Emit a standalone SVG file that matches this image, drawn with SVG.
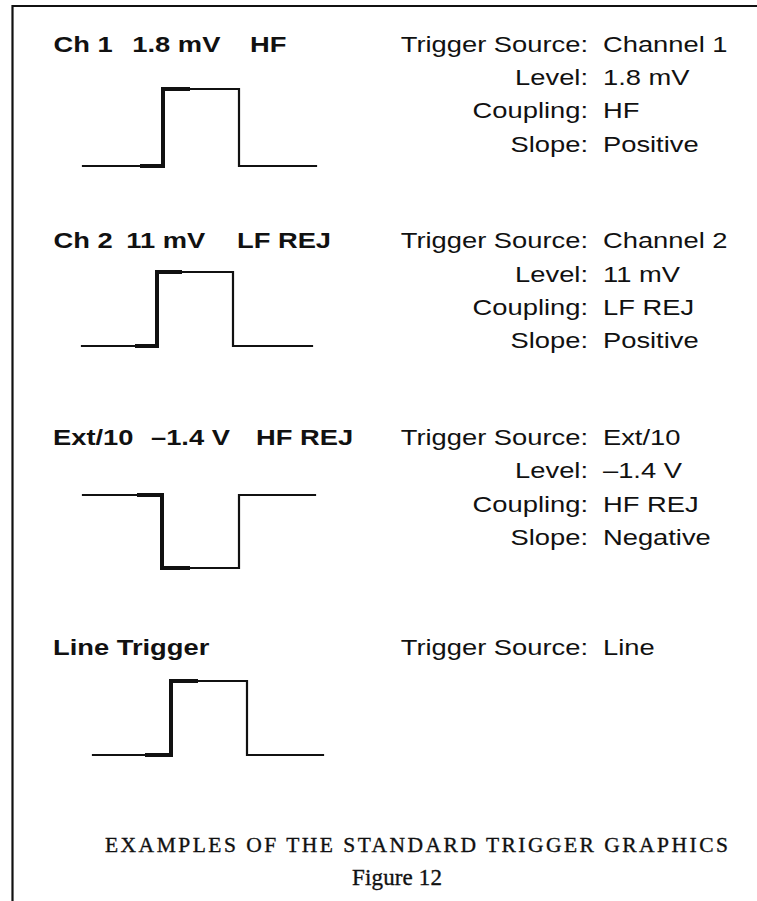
<svg xmlns="http://www.w3.org/2000/svg" width="757" height="901" viewBox="0 0 757 901">
<style>
.s{font-family:"Liberation Sans",Arial,sans-serif;font-size:22.4px;fill:#111}
.b{font-weight:bold}
.e{text-anchor:end}
.w{fill:none;stroke:#111;stroke-width:2.2;stroke-linejoin:miter;stroke-linecap:square}
.t{fill:none;stroke:#111;stroke-width:4;stroke-linejoin:miter}
.cap{font-family:"Liberation Serif","Times New Roman",serif;fill:#111;stroke:#111;stroke-width:0.35}
</style>
<rect width="757" height="901" fill="#fff"/>
<g id="frame" fill="none" stroke="#111" stroke-width="2.2">
<path d="M12.5,901 V6 H757"/>
</g>
<g id="ch1">
<path class="w" d="M83,166 H163 V89 H239 V166 H316"/>
<path class="t" d="M140,166 H163 V89 H190"/>
<g transform="scale(1.22,1)">
<text class="s b" x="43.93" y="52">Ch 1</text>
<text class="s b" x="108.44" y="52">1.8 mV</text>
<text class="s b" x="204.92" y="52">HF</text>
<text class="s e" x="481.97" y="52">Trigger Source:</text>
<text class="s" x="494.26" y="52">Channel 1</text>
<text class="s e" x="481.97" y="85">Level:</text>
<text class="s" x="494.26" y="85">1.8 mV</text>
<text class="s e" x="481.97" y="118">Coupling:</text>
<text class="s" x="494.26" y="118">HF</text>
<text class="s e" x="481.97" y="152">Slope:</text>
<text class="s" x="494.26" y="152">Positive</text>
</g>
</g>
<g id="ch2">
<path class="w" d="M82,346 H157 V272 H233 V346 H312"/>
<path class="t" d="M135,346 H157 V272 H182"/>
<g transform="scale(1.22,1)">
<text class="s b" x="43.93" y="248">Ch 2</text>
<text class="s b" x="103.52" y="248">11 mV</text>
<text class="s b" x="194.26" y="248">LF REJ</text>
<text class="s e" x="481.97" y="248">Trigger Source:</text>
<text class="s" x="494.26" y="248">Channel 2</text>
<text class="s e" x="481.97" y="282">Level:</text>
<text class="s" x="494.26" y="282">11 mV</text>
<text class="s e" x="481.97" y="315">Coupling:</text>
<text class="s" x="494.26" y="315">LF REJ</text>
<text class="s e" x="481.97" y="348">Slope:</text>
<text class="s" x="494.26" y="348">Positive</text>
</g>
</g>
<g id="ext10">
<path class="w" d="M83,495 H162 V568 H239 V495 H315"/>
<path class="t" d="M137,495 H162 V568 H190"/>
<g transform="scale(1.22,1)">
<text class="s b" x="43.44" y="445">Ext/10</text>
<text class="s b" x="123.77" y="445">–1.4 V</text>
<text class="s b" x="209.84" y="445">HF REJ</text>
<text class="s e" x="481.97" y="445">Trigger Source:</text>
<text class="s" x="494.26" y="445">Ext/10</text>
<text class="s e" x="481.97" y="478">Level:</text>
<text class="s" x="494.26" y="478">–1.4 V</text>
<text class="s e" x="481.97" y="512">Coupling:</text>
<text class="s" x="494.26" y="512">HF REJ</text>
<text class="s e" x="481.97" y="545">Slope:</text>
<text class="s" x="494.26" y="545">Negative</text>
</g>
</g>
<g id="line">
<path class="w" d="M93,755 H171 V681 H247 V755 H323"/>
<path class="t" d="M145,755 H171 V681 H198"/>
<g transform="scale(1.22,1)">
<text class="s b" x="43.44" y="655">Line Trigger</text>
<text class="s e" x="481.97" y="655">Trigger Source:</text>
<text class="s" x="494.26" y="655">Line</text>
</g>
</g>
<g id="caption">
<text class="cap" x="105" y="852" font-size="21.5" textLength="623" lengthAdjust="spacing">EXAMPLES OF THE STANDARD TRIGGER GRAPHICS</text>
<text class="cap" x="352" y="885" font-size="23" textLength="90" lengthAdjust="spacing">Figure 12</text>
</g>
</svg>
